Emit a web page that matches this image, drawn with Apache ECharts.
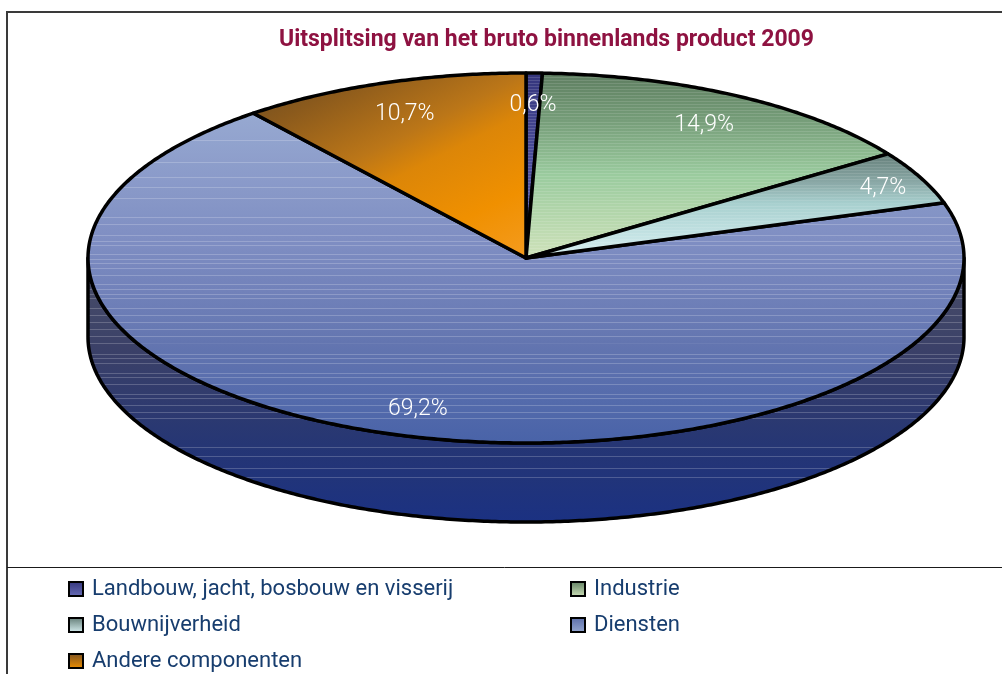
<!DOCTYPE html>
<html><head><meta charset="utf-8">
<style>html,body{margin:0;padding:0;background:#fff}#c{width:1002px;height:674px}</style>
<script src="https://cdn.jsdelivr.net/npm/echarts@6/dist/echarts.min.js"></script>
</head><body><div id="c"></div>
<script>
var titleText = 'Uitsplitsing van het bruto binnenlands product 2009';
var categories = ['Landbouw, jacht, bosbouw en visserij','Industrie','Bouwnijverheid','Diensten','Andere componenten'];
var shares = [0.6,14.9,4.7,69.2,10.7];
var shareLabels = ['0,6%','14,9%','4,7%','69,2%','10,7%'];

var DEPTH = 79/185;
var total = shares.reduce(function(a,b){return a+b;},0);

function hex(c){return [parseInt(c.substr(1,2),16),parseInt(c.substr(3,2),16),parseInt(c.substr(5,2),16)];}
function colorAt(stops,t){
  if(t<=stops[0][0])return hex(stops[0][1]);
  for(var i=1;i<stops.length;i++){
    if(t<=stops[i][0]){
      var a=hex(stops[i-1][1]),b=hex(stops[i][1]),k=(t-stops[i-1][0])/(stops[i][0]-stops[i-1][0]);
      return [0,1,2].map(function(j){return a[j]+(b[j]-a[j])*k;});
    }
  }
  return hex(stops[stops.length-1][1]);
}
function css(c){return 'rgb('+Math.round(c[0])+','+Math.round(c[1])+','+Math.round(c[2])+')';}
function striped(y0,y1,stops,ys,alpha){
  var out=stops.map(function(s){return {offset:s[0],color:s[1]};});
  ys.forEach(function(y){
    if(y<y0||y>y1)return;
    var h=y1-y0,add=function(o,a){
      var t=(y+0.5+o-y0)/h; if(t<0||t>1)return;
      var c=colorAt(stops,t);
      out.push({offset:t,color:css(c.map(function(v){return v+(255-v)*a;}))});
    };
    add(-0.7,0);add(-0.5,alpha);add(0.5,alpha);add(0.7,0);
  });
  out.sort(function(a,b){return a.offset-b.offset;});
  return new echarts.graphic.LinearGradient(0,y0,0,y1,out,true);
}
var blueLines=[140,162,177,187,198,217,224,235,241,245,254,259,263,268,275,284,289,294,298,308,315,322,329,336,343,354,358,363,373,377,384,394,398,405,412,418,447,456,468,477];
var fine=[];for(var fy=74;fy<258;fy+=3)fine.push(fy);

var topFills=[
  striped(73,258,[[0,'#34357c'],[0.5,'#4c4f9c'],[1,'#6a6fb8']],fine,0.14),
  striped(73,258,[[0,'#5e7d60'],[0.25,'#759c78'],[0.55,'#9acb9e'],[1,'#cfe2ba']],fine,0.12),
  striped(150,258,[[0,'#607a74'],[0.3,'#8aa8a6'],[0.5,'#a8d0cf'],[1,'#d8f0f2']],fine,0.10),
  striped(112,443,[[0,'#97a9d1'],[0.4,'#7e8dc2'],[0.7,'#6375b0'],[1,'#4963a8']],blueLines,0.2),
  new echarts.graphic.LinearGradient(270,85,390,325,[
    {offset:0,color:'#755020'},{offset:0.13,color:'#8b5a1c'},{offset:0.39,color:'#bb7618'},{offset:0.52,color:'#dc8608'},{offset:0.77,color:'#f09000'},{offset:1,color:'#f49b1e'}],true)
];
var wallFill=striped(262,522,[[0,'#4a4e68'],[0.35,'#3a4068'],[0.7,'#263674'],[1,'#1b3182']],blueLines,0.2);

var swatches=[
  ['#34357c','#6a6fb8'],['#5e7d60','#cfe2ba'],['#607a74','#d8f0f2'],['#5a6ca8','#97a9d1'],['#7a5122','#f09000']
].map(function(s){return new echarts.graphic.LinearGradient(0,0,0,1,[{offset:0,color:s[0]},{offset:1,color:s[1]}]);});

var labelRadius=[0.84,0.84,0.905,0.84,0.84];

function angleOf(sum){return sum/total*2*Math.PI;}
function rim(api,a,drop){return api.coord([Math.sin(a),Math.cos(a)-drop]);}
function cumulative(idx){var s=0;for(var i=0;i<idx;i++)s+=shares[i];return s;}
function sliceRenderer(idx){
  return function(params,api){
    var before=cumulative(idx);
    var a0=angleOf(before),a1=angleOf(before+api.value(0));
    var STEP=Math.PI/360,children=[];
    var fa=Math.max(a0,Math.PI/2),fb=Math.min(a1,Math.PI*1.5);
    if(fb>fa){
      var w=[],a;
      for(a=fa;a<fb;a+=STEP)w.push(rim(api,a,0));
      w.push(rim(api,fb,0));
      for(a=fb;a>fa;a-=STEP)w.push(rim(api,a,DEPTH));
      w.push(rim(api,fa,DEPTH));
      children.push({type:'polygon',shape:{points:w},style:{fill:wallFill,stroke:'#000',lineWidth:3.5,lineJoin:'round'}});
    }
    var pts=[api.coord([0,0])];
    for(var b=a0;b<a1;b+=STEP)pts.push(rim(api,b,0));
    pts.push(rim(api,a1,0));
    children.push({type:'polygon',shape:{points:pts},style:{fill:topFills[idx],stroke:'#000',lineWidth:3.5,lineJoin:'round'}});
    return {type:'group',children:children};
  };
}
function labelRenderer(params,api){
  var idx=params.dataIndex;
  var mid=angleOf(cumulative(idx)+api.value(0)/2),r=labelRadius[idx],p=api.coord([r*Math.sin(mid),r*Math.cos(mid)]);
  return {type:'text',style:{x:p[0],y:p[1]+3,text:shareLabels[idx],fill:'#fff',align:'center',verticalAlign:'middle',font:'300 23px Roboto'}};
}

var zOrder=[3,4,5,1,6];
var series=categories.map(function(name,i){
  return {type:'custom',name:name,coordinateSystem:'cartesian2d',z:zOrder[i],silent:true,clip:false,
    data:[[shares[i]]],encode:{x:[],y:[]},renderItem:sliceRenderer(i),
    itemStyle:{color:swatches[i],borderColor:'#000',borderWidth:2.5}};
});
series.push({type:'custom',name:'Aandeel',coordinateSystem:'cartesian2d',z:20,silent:true,clip:false,
  data:shares.map(function(v){return [v];}),encode:{x:[],y:[]},renderItem:labelRenderer});

var chart=echarts.init(document.getElementById('c'),null,{renderer:'canvas'});
var legendBase={orient:'vertical',top:578,padding:0,itemWidth:14,itemHeight:14,itemGap:14,selectedMode:false,icon:'rect',
  textStyle:{color:'#173d6e',fontFamily:'Roboto',fontWeight:400,fontSize:22,lineHeight:22,padding:[0,0,0,4]}};
chart.setOption({
  animation:false,backgroundColor:'#fff',
  title:{text:titleText,left:279,top:29,padding:0,textStyle:{color:'#8e1241',fontFamily:'Roboto',fontWeight:'bold',fontSize:23}},
  grid:{left:88,top:73,width:876,height:370},
  xAxis:{type:'value',min:-1,max:1,show:false},
  yAxis:{type:'value',min:-1,max:1,show:false},
  legend:[
    Object.assign({},legendBase,{left:68,data:[categories[0],categories[2],categories[4]]}),
    Object.assign({},legendBase,{left:570,data:[categories[1],categories[3]]})
  ],
  graphic:[
    {type:'polyline',silent:true,shape:{points:[[7,674],[7,12],[1002,12]]},style:{fill:null,stroke:'#3a3a3a',lineWidth:2}},
    {type:'line',silent:true,shape:{x1:7,y1:567.5,x2:1002,y2:567.5},style:{stroke:'#1a1a1a',lineWidth:1}}
  ],
  series:series
});
</script></body></html>
